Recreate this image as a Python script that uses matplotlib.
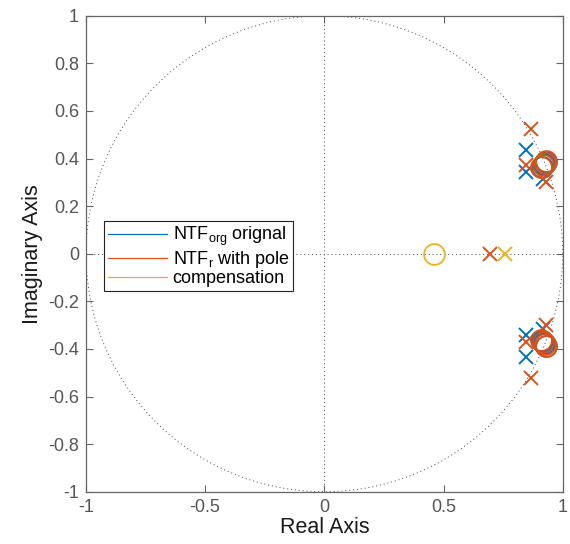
import numpy as np
import matplotlib
matplotlib.use("Agg")
import matplotlib.pyplot as plt

plt.rcParams['font.family'] = ['Liberation Sans', 'DejaVu Sans']
plt.rcParams['mathtext.fontset'] = 'custom'
plt.rcParams['mathtext.rm'] = 'Liberation Sans'
plt.rcParams['mathtext.it'] = 'Liberation Sans'

# Data
labels = ['NTF$_{\\rm org}$ orignal', 'NTF$_{\\rm r}$ with pole', 'compensation']
colors = ['#0072BD', '#D95319', '#EDB120']

# NTF_org poles / zeros
org_poles_re = [0.844, 0.844, 0.844, 0.844, 0.917, 0.917]
org_poles_im = [0.436, -0.436, 0.342, -0.342, 0.315, -0.315]
org_zeros_re = [0.912, 0.912, 0.920, 0.920, 0.928, 0.928]
org_zeros_im = [0.366, -0.366, 0.376, -0.376, 0.386, -0.386]

# NTF_r with pole compensation poles / zeros
r_poles_re = [0.868, 0.868, 0.846, 0.846, 0.930, 0.930, 0.695]
r_poles_im = [0.522, -0.522, 0.372, -0.372, 0.300, -0.300, 0.0]
r_zeros_re = [0.910, 0.910, 0.917, 0.917, 0.924, 0.924, 0.931, 0.931]
r_zeros_im = [0.364, -0.364, 0.372, -0.372, 0.380, -0.380, 0.388, -0.388]

# compensation poles / zeros
c_poles_re = [0.758]
c_poles_im = [0.0]
c_zeros_re = [0.460]
c_zeros_im = [0.0]

series = [
    (org_poles_re, org_poles_im, org_zeros_re, org_zeros_im),
    (r_poles_re, r_poles_im, r_zeros_re, r_zeros_im),
    (c_poles_re, c_poles_im, c_zeros_re, c_zeros_im),
]

fig = plt.figure(figsize=(5.70, 5.44), dpi=100)
ax = fig.add_axes([0.1509, 0.0961, 0.8363, 0.8750])

# unit circle and axes lines
t = np.linspace(0, 2 * np.pi, 400)
ax.plot(np.cos(t), np.sin(t), linestyle=(0, (1, 3)), color='#444444', linewidth=0.7, zorder=1)
ax.axhline(0, linestyle=(0, (1, 3)), color='#444444', linewidth=0.7, zorder=1)
ax.axvline(0, linestyle=(0, (1, 3)), color='#444444', linewidth=0.7, zorder=1)

handles = []
for (pr, pi, zr, zi), col, lab in zip(series, colors, labels):
    ax.plot(pr, pi, linestyle='none', marker='x', markersize=10.5, markeredgewidth=1.4,
            color=col, zorder=3)
    ax.plot(zr, zi, linestyle='none', marker='o', markersize=15, markeredgewidth=1.3,
            markerfacecolor='none', markeredgecolor=col, zorder=3)
    h, = ax.plot([], [], color=col, linewidth=0.9, label=lab)
    handles.append(h)

ax.set_xlim(-1, 1)
ax.set_ylim(-1, 1)
ax.set_xticks([-1, -0.5, 0, 0.5, 1])
ax.set_xticklabels(['-1', '-0.5', '0', '0.5', '1'])
yt = [-1, -0.8, -0.6, -0.4, -0.2, 0, 0.2, 0.4, 0.6, 0.8, 1]
ax.set_yticks(yt)
ax.set_yticklabels(['-1', '-0.8', '-0.6', '-0.4', '-0.2', '0', '0.2', '0.4', '0.6', '0.8', '1'])

ax.tick_params(direction='in', length=5, width=0.8, colors='#666666',
               labelcolor='#555555', labelsize=13, top=True, right=True, pad=5)
for s in ax.spines.values():
    s.set_color('#666666')
    s.set_linewidth(0.9)

ax.set_xlabel('Real Axis', fontsize=15.5, color='#1a1a1a', labelpad=1)
ax.set_ylabel('Imaginary Axis', fontsize=15.5, color='#1a1a1a', labelpad=4)

leg = ax.legend(handles=handles, loc='upper left', bbox_to_anchor=(0.038, 0.569),
                fontsize=13, frameon=True, fancybox=False, handlelength=3.3,
                handletextpad=0.3, borderpad=0.2, labelspacing=0.05, borderaxespad=0,
                handleheight=0.6)
leg.get_frame().set_edgecolor('#222222')
leg.get_frame().set_linewidth(0.8)
leg.get_frame().set_alpha(1)

fig.savefig('out.png', dpi=100)
